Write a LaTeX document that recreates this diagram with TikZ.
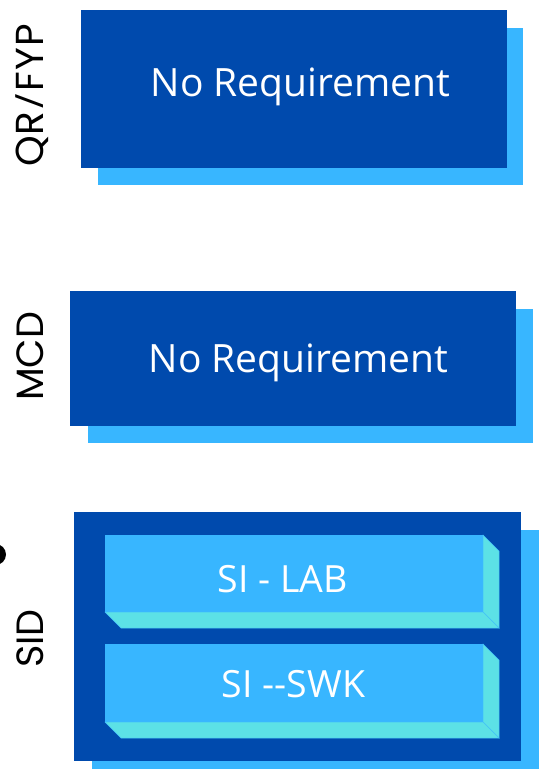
\documentclass[tikz,border=0pt]{standalone}
\usepackage{fontspec}
\setmainfont{Open Sans}
\newfontfamily\labfont{Poppins}
\newfontfamily\slashfont{Open Sans}
\usetikzlibrary{backgrounds,calc}
\definecolor{dkblue}{HTML}{004AAD}
\definecolor{ltblue}{HTML}{38B6FF}
\definecolor{cyanb}{HTML}{5CE1E6}
\begin{document}
\begin{tikzpicture}[x=1pt,y=-1pt,
  panel/.style={fill=dkblue, draw=none, inner sep=0pt, outer sep=0pt, anchor=north west},
  shadowfill/.style={fill=ltblue, draw=none},
  boxtext/.style={text=white, font=\fontsize{39}{39}\selectfont, anchor=base, inner sep=0pt},
  sitext/.style={text=white, font=\fontsize{37.5}{37.5}\selectfont, anchor=base, inner sep=0pt},
  sideface/.style={fill=cyanb, draw=ltblue!70!cyanb, line width=0.5pt},
  siface/.style={fill=ltblue, draw=none, inner sep=0pt, outer sep=0pt, anchor=north west},
  rowlabel/.style={text=black, font=\labfont\fontsize{38}{38}\selectfont, rotate=90, anchor=base, inner sep=0pt}
]
\useasboundingbox (0,0) rectangle (542,769);

% panels
\node[panel, minimum width=426pt, minimum height=158pt] (qr) at (81,10) {};
\node[panel, minimum width=446pt, minimum height=135pt] (mcd) at (70,291) {};
\node[panel, minimum width=447pt, minimum height=249pt] (sid) at (74,512) {};

\begin{scope}[on background layer]
  \fill[white] (0,0) rectangle (542,769);
  \fill[shadowfill] ($(qr.north west)+(17,18)$) rectangle ($(qr.south east)+(16,17)$);
  \fill[shadowfill] ($(mcd.north west)+(18,18)$) rectangle ($(mcd.south east)+(17,17)$);
  \fill[shadowfill] ($(sid.north west)+(18,18)$) rectangle ($(sid.south east)+(18,18)$);
\end{scope}

% texts in panels
\node[boxtext] (qrt) at (300.5,96) {No Requirement};
\node[boxtext] (mcdt) at (298.5,372) {No Requirement};

% SI boxes
\node[siface, minimum width=378pt, minimum height=77pt] (lab) at (105,535) {};
\node[siface, minimum width=378pt, minimum height=78pt] (swk) at (105,644) {};
\foreach \b in {lab,swk}{
  \filldraw[sideface] (\b.north east) -- ++(16,16) -- ($(\b.south east)+(16,16)$) -- (\b.south east) -- cycle;
  \filldraw[sideface] (\b.south west) -- (\b.south east) -- ++(16,16) -- ($(\b.south west)+(16,16)$) -- cycle;
}
\node[sitext] (labt) at (282.5,592) {SI - LAB};
\node[sitext] (swkt) at (293.5,697) {SI -{}-SWK};

% row labels
\node[rowlabel, font=\labfont\fontsize{39}{39}\selectfont] (l1) at (43,95) {QR\kern3pt{\slashfont\fontsize{39}{39}\selectfont /}\kern3pt F\kern1.5pt Y\kern1.5pt P};
\node[rowlabel] (l2) at (43,356.5) {MCD};
\node[rowlabel] (l3) at (43,638.5) {SID};

% partial dot at left edge
\fill[black] (-4.5,554.5) circle (10.5pt);
\end{tikzpicture}
\end{document}
